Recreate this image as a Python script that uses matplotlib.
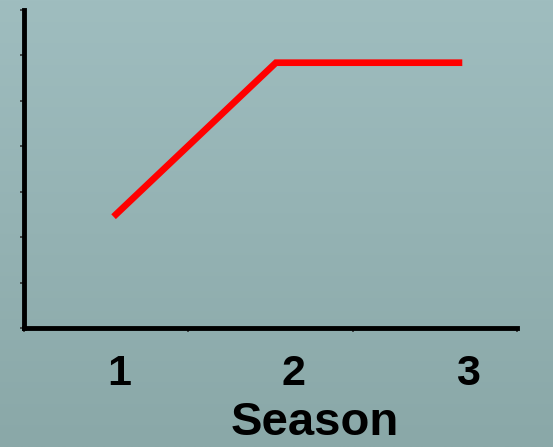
import numpy as np
import matplotlib
matplotlib.use('Agg')
import matplotlib.pyplot as plt
import matplotlib.transforms as mtransforms
from matplotlib.colors import LinearSegmentedColormap

# Data (x in category-slot units: slots 0-1, 1-2, 2-3)
season_labels = ['1', '2', '3']
label_pos = [0.58, 1.64, 2.70]
line_x = [0.545, 1.533, 2.667]
line_y = [2.45, 5.84, 5.84]
x_ticks = [0, 1, 2, 3]
y_ticks = [0, 1, 2, 3, 4, 5, 6, 7]

plt.rcParams['font.family'] = ['Liberation Sans', 'DejaVu Sans']

fig = plt.figure(figsize=(5.53, 4.47), dpi=100)

# gradient background
bg = fig.add_axes([0, 0, 1, 1], zorder=0)
cmap = LinearSegmentedColormap.from_list('bg', ['#9fbdbf', '#8aa8a8'])
bg.imshow(np.linspace(0, 1, 256).reshape(-1, 1), aspect='auto', cmap=cmap,
          extent=[0, 1, 0, 1])
bg.axis('off')

W, H = 553, 447
ax = fig.add_axes([24 / W, (H - 328) / H, (517 - 24) / W, (328 - 10) / H], zorder=1)
ax.patch.set_alpha(0)

ax.plot(line_x, line_y, color='#ff0000', lw=4.8, solid_capstyle='butt',
        solid_joinstyle='miter')

ax.set_xlim(0, 3)
ax.set_ylim(0, 7)
ax.set_xticks(x_ticks)
ax.set_yticks(y_ticks)
ax.set_xticklabels([])
ax.set_yticklabels([])
ax.tick_params(axis='both', direction='out', length=3, width=1.2, color='#333333')

for s in ['top', 'right']:
    ax.spines[s].set_visible(False)
for s in ['left', 'bottom']:
    ax.spines[s].set_linewidth(3.5)
    ax.spines[s].set_color('black')

trans = mtransforms.blended_transform_factory(ax.transData, fig.transFigure)
for lab, xp in zip(season_labels, label_pos):
    ax.text(xp, 1 - 374 / H, lab, transform=trans,
            fontsize=31, fontweight='bold', ha='center', va='center')

fig.text(315 / W, 1 - 423 / H, 'Season', fontsize=34, fontweight='bold',
         ha='center', va='center')

fig.savefig('out.png', dpi=100)
